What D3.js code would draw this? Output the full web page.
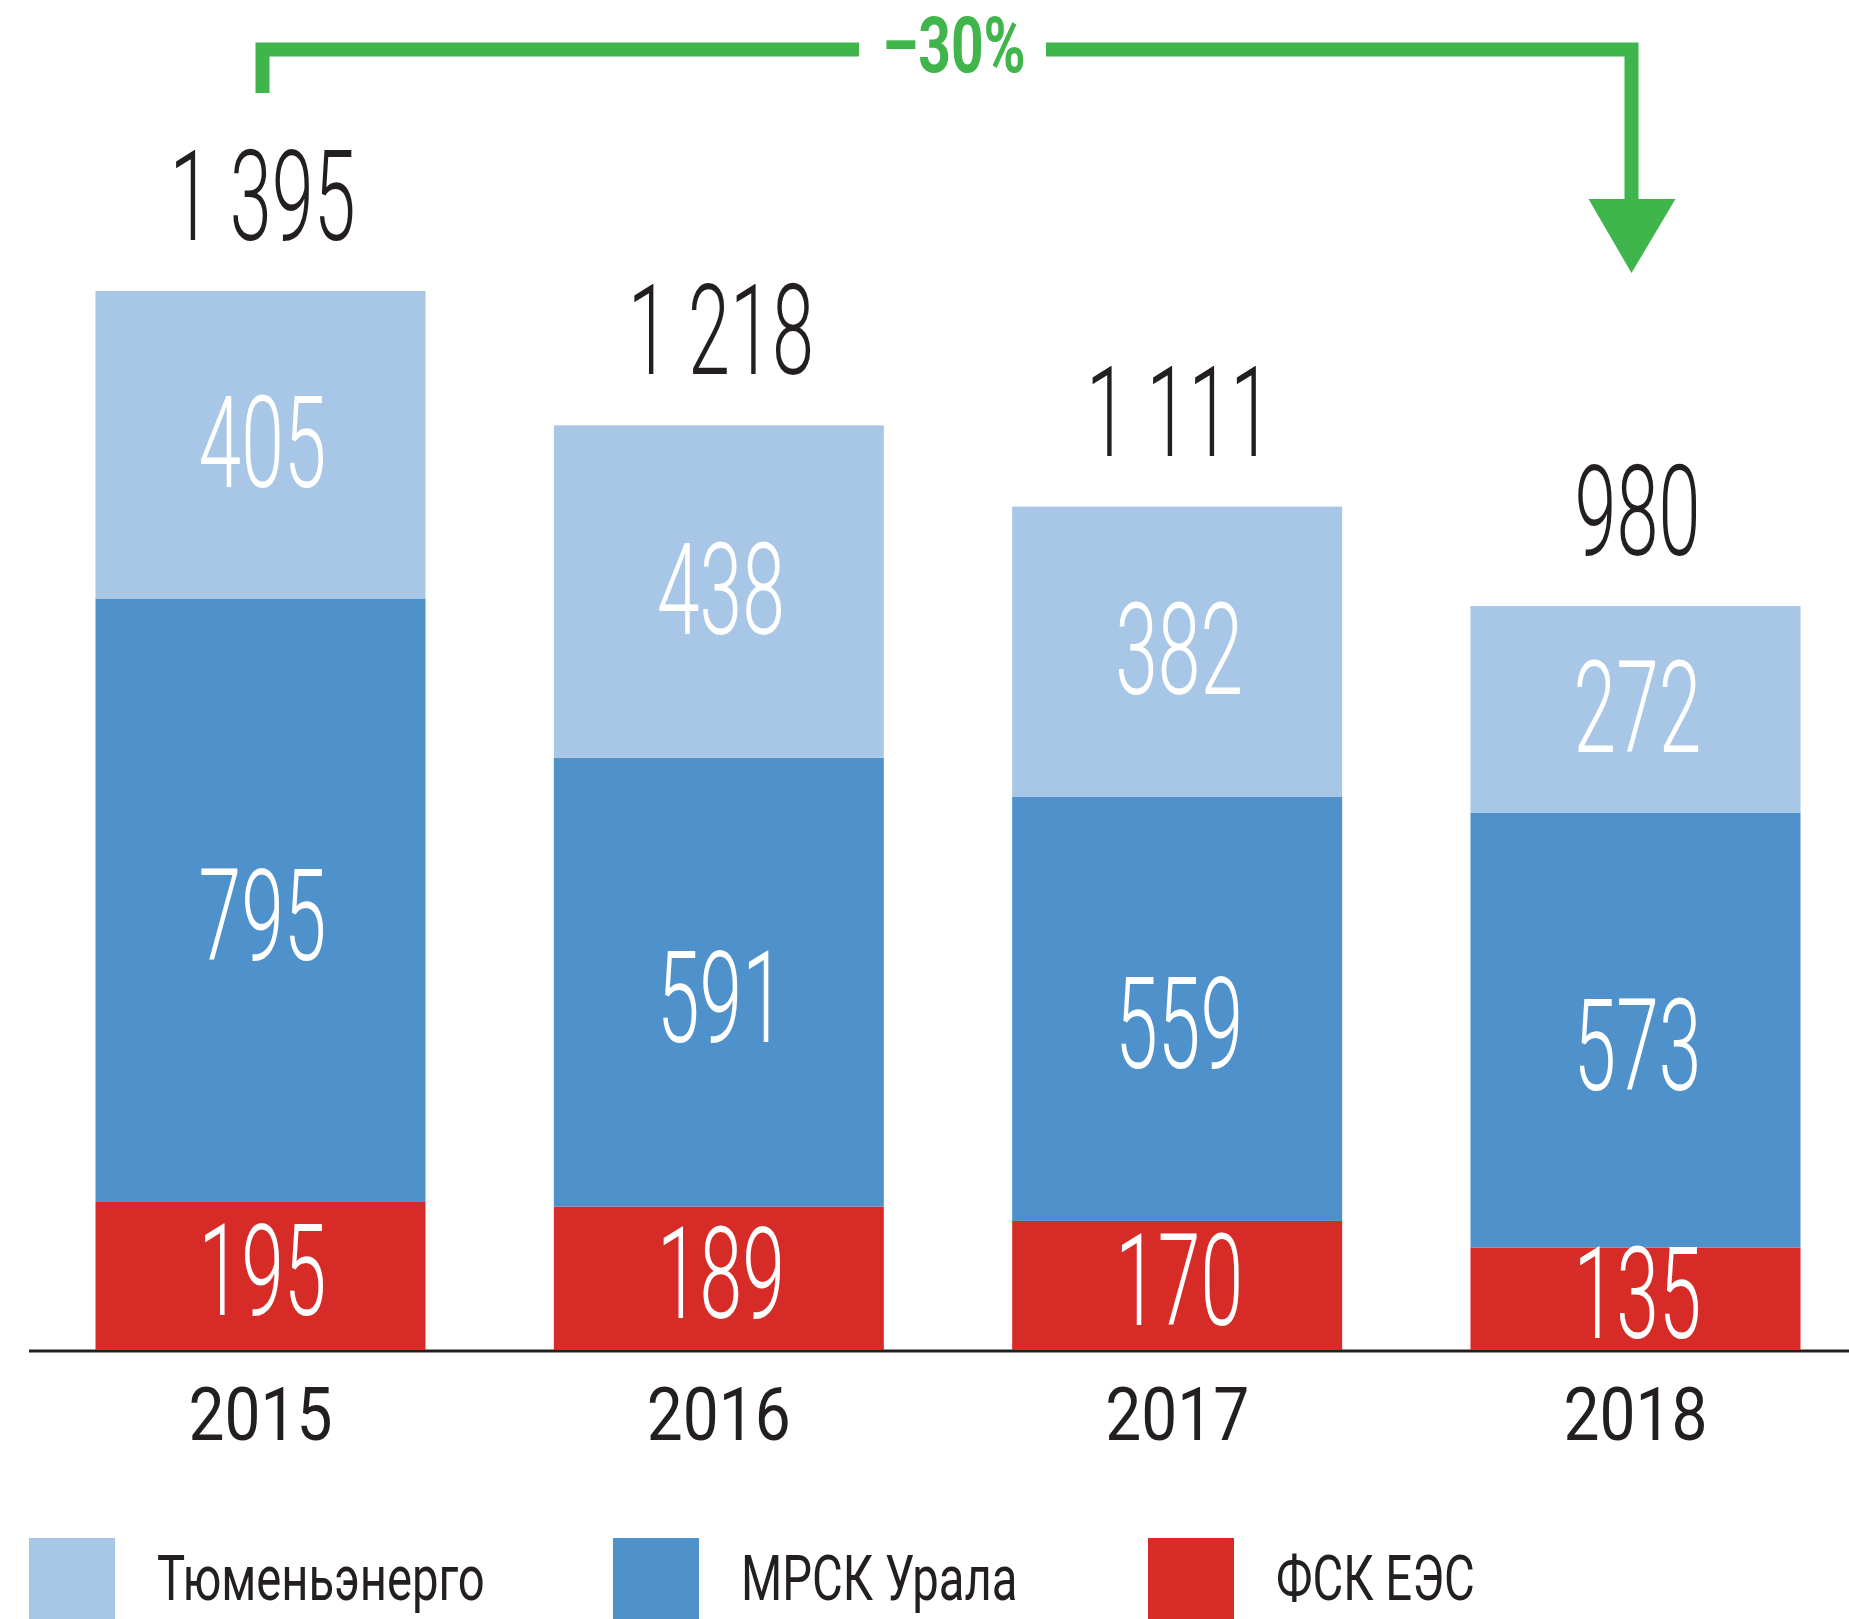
<!DOCTYPE html>
<html>
<head>
<meta charset="utf-8">
<script src="https://cdn.jsdelivr.net/npm/d3@7"></script>
<style>
  html, body { margin: 0; padding: 0; background: #fff; }
  svg { display: block; font-family: Roboto, "Noto Sans", sans-serif; }
</style>
</head>
<body>
<svg id="chart" width="1849" height="1619"></svg>
<script>
// ---- data ----
const years = ["2015", "2016", "2017", "2018"];
const seriesNames = ["ФСК ЕЭС", "МРСК Урала", "Тюменьэнерго"];
const fskValues = [195, 189, 170, 135];
const mrskValues = [795, 591, 559, 573];
const tyumenValues = [405, 438, 382, 272];
const totals = [1395, 1218, 1111, 980];
const changeLabel = "–30%";
const legendOrder = ["Тюменьэнерго", "МРСК Урала", "ФСК ЕЭС"];

// ---- styles ----
const colors = { "ФСК ЕЭС": "#d72b27", "МРСК Урала": "#4f91cb", "Тюменьэнерго": "#a8c6e5" };
const textColor = "#231f20";
const green = "#3fb54b";
const CAP = 0.711;

const svg = d3.select("#chart");
const baseY = 1350;

const rows = years.map((y, i) => ({
  year: y,
  "ФСК ЕЭС": fskValues[i],
  "МРСК Урала": mrskValues[i],
  "Тюменьэнерго": tyumenValues[i],
  total: totals[i]
}));

const x = d3.scaleBand().domain(years).range([95.5, 1800.5]).paddingInner(0.28).paddingOuter(0);
const y = d3.scaleLinear().domain([0, 1395]).range([baseY, 291]);

const stack = d3.stack().keys(seriesNames)(rows);

const fmt = d3.formatLocale({ decimal: ",", thousands: " ", grouping: [3], currency: ["", ""] }).format(",");

// axis line
svg.append("line")
  .attr("x1", 29).attr("x2", 1849)
  .attr("y1", baseY + 1).attr("y2", baseY + 1)
  .attr("stroke", textColor).attr("stroke-width", 3);

// bars
const layers = svg.append("g").selectAll("g").data(stack).join("g")
  .attr("fill", d => colors[d.key]);
layers.selectAll("rect").data(d => d).join("rect")
  .attr("x", d => x(d.data.year))
  .attr("width", x.bandwidth())
  .attr("y", d => y(d[1]))
  .attr("height", d => y(d[0]) - y(d[1]));

// helper for condensed text
function ctext(parent, tx, ty, str, size, sx, opts = {}) {
  const g = parent.append("g").attr("transform", `translate(${tx},${ty}) scale(${sx},1)`);
  g.append("text")
    .attr("text-anchor", opts.anchor || "middle")
    .attr("font-size", size)
    .attr("font-weight", opts.weight || 400)
    .attr("fill", opts.fill || textColor)
    .text(str);
  return g;
}

// segment labels
const segOffset = { "ФСК ЕЭС": -6, "МРСК Урала": 14, "Тюменьэнерго": -3 };
const labels = svg.append("g");
stack.forEach(layer => {
  layer.forEach(d => {
    const cx = x(d.data.year) + x.bandwidth() / 2;
    const cy = (y(d[0]) + y(d[1])) / 2 + segOffset[layer.key];
    ctext(labels, cx + 2, cy + 128 * CAP / 2, String(d.data[layer.key]), 128, 0.6, { fill: "#fff", weight: 300 });
  });
});

// totals
rows.forEach(r => {
  const cx = x(r.year) + x.bandwidth() / 2;
  ctext(labels, cx + 2, y(r.total) - 51, fmt(r.total), 126, 0.6, { weight: 300 });
});

// year axis labels
years.forEach(yr => {
  ctext(labels, x(yr) + x.bandwidth() / 2, 1440, yr, 74.5, 0.86);
});

// change annotation
const x0 = x(years[0]) + x.bandwidth() / 2 + 2;
const x1 = x(years[years.length - 1]) + x.bandwidth() / 2 - 4;
const hy = 49.5;
const ann = svg.append("g");
ann.append("path")
  .attr("d", `M${x0},93 V${hy} H859 M1046,${hy} H${x1} V205`)
  .attr("fill", "none").attr("stroke", green).attr("stroke-width", 14)
  .attr("stroke-linejoin", "miter").attr("stroke-linecap", "butt");
ann.append("path")
  .attr("d", `M${x1 - 43},199 L${x1 + 44},199 L${x1},273 Z`)
  .attr("fill", green);
ctext(ann, 954, 72, changeLabel, 77, 0.74, { fill: green, weight: 700 });

// legend
const legendX = [29, 613, 1148];
legendOrder.forEach((name, i) => {
  svg.append("rect")
    .attr("x", legendX[i]).attr("y", 1538)
    .attr("width", 86).attr("height", 81)
    .attr("fill", colors[name]);
  ctext(svg, legendX[i] + 128, 1600, name, 63, 0.75, { anchor: "start" });
});
</script>
</body>
</html>
